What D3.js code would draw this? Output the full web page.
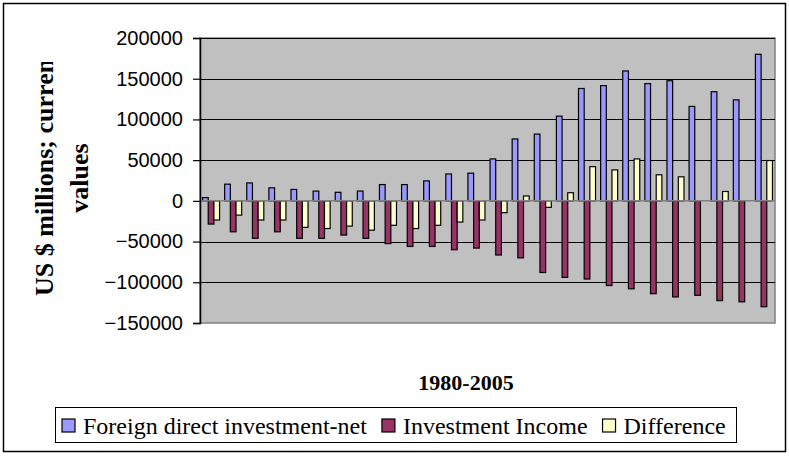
<!DOCTYPE html>
<html>
<head>
<meta charset="utf-8" />
<script src="https://d3js.org/d3.v7.min.js"></script>
<style>
  body { margin: 0; background: #fff; }
  svg { display: block; }
</style>
</head>
<body>
<div id="chart"></div>
<script>
// --- data ---
const years = d3.range(1980, 2006).map(String);
const seriesNames = ["Foreign direct investment-net", "Investment Income", "Difference"];
const fdiNet = [4000, 20500, 22000, 16000, 14000, 12000, 10500, 12000, 20000, 20000, 24500, 33000, 34000,
                51500, 76000, 82000, 104000, 138000, 141500, 159500, 144000, 147500, 116000, 134000, 124000, 180000];
const investmentIncome = [-28500, -38000, -46000, -38000, -46000, -46000, -42000, -46000, -52500, -56000, -56000, -60000, -58000,
                          -66500, -70000, -88000, -94000, -96000, -104000, -108000, -114000, -118000, -116000, -122500, -124000, -130000];
const difference = [-23500, -17500, -23500, -23500, -32500, -34000, -31000, -36000, -30000, -34000, -30000, -26000, -23500,
                    -14500, 6000, -8000, 10000, 42000, 38000, 51500, 32000, 29500, 0, 11500, 0, 49500];
const yTicks = [-150000, -100000, -50000, 0, 50000, 100000, 150000, 200000];
const colors = ["#9999FF", "#993366", "#FFFFCC"];

const width = 789, height = 456;
const plot = { left: 200, right: 775, top: 38, bottom: 323 };

const svg = d3.select("#chart").append("svg").attr("width", width).attr("height", height);

// outer chart border
svg.append("rect").attr("x", 3.5).attr("y", 3.5).attr("width", 782).attr("height", 448)
    .attr("fill", "#fff").attr("stroke", "#000").attr("stroke-width", 1.5);

const x0 = d3.scaleBand().domain(years).range([plot.left, plot.right]).paddingInner(0.23).paddingOuter(0.115);
const x1 = d3.scaleBand().domain(seriesNames).range([0, x0.bandwidth()]);
const y = d3.scaleLinear().domain([-150000, 200000]).range([plot.bottom, plot.top]);

// plot area
svg.append("rect").attr("x", plot.left).attr("y", plot.top)
    .attr("width", plot.right - plot.left).attr("height", plot.bottom - plot.top)
    .attr("fill", "#C0C0C0").attr("stroke", "#808080").attr("stroke-width", 1.5);

// gridlines
svg.append("g").selectAll("line")
    .data(yTicks.filter(d => d !== 0 && d !== -150000))
    .join("line")
    .attr("x1", plot.left).attr("x2", plot.right)
    .attr("y1", d => Math.round(y(d)) + 0.5).attr("y2", d => Math.round(y(d)) + 0.5)
    .attr("stroke", "#000").attr("stroke-width", 1);

// bars
const rows = years.map((yr, i) => ({ year: yr, values: [fdiNet[i], investmentIncome[i], difference[i]] }));
const group = svg.append("g").selectAll("g")
    .data(rows).join("g")
    .attr("transform", d => `translate(${x0(d.year)},0)`);

group.selectAll("rect")
    .data(d => d.values.map((v, k) => ({ name: seriesNames[k], value: v, k })))
    .join("rect")
    .attr("x", d => x1(d.name))
    .attr("y", d => y(Math.max(0, d.value)))
    .attr("width", x1.bandwidth())
    .attr("height", d => Math.abs(y(d.value) - y(0)))
    .attr("fill", d => colors[d.k])
    .attr("stroke", "#000").attr("stroke-width", 1.2);

// category axis line at zero
svg.append("line").attr("x1", plot.left).attr("x2", plot.right)
    .attr("y1", y(0)).attr("y2", y(0)).attr("stroke", "#808080").attr("stroke-width", 1.5);

// value axis
const yAxis = d3.axisLeft(y).tickValues(yTicks).tickSize(7).tickPadding(10).tickFormat(d3.format("d"));
const ya = svg.append("g").attr("transform", `translate(${plot.left},0)`).call(yAxis);
ya.select(".domain").attr("stroke", "#000").attr("stroke-width", 1.5);
ya.selectAll(".tick line").attr("stroke", "#000").attr("stroke-width", 1.2);
ya.selectAll(".tick text")
    .attr("font-family", "'Liberation Sans', Arial, sans-serif")
    .attr("font-size", 20).attr("fill", "#000");

// y axis title (first line clipped at the top, as in the original)
svg.append("clipPath").attr("id", "ytclip")
    .append("rect").attr("x", 0).attr("y", 62).attr("width", 120).attr("height", 300);
const yTitle = svg.append("g").attr("clip-path", "url(#ytclip)")
    .attr("font-family", "'Liberation Serif', 'Times New Roman', serif")
    .attr("font-weight", "bold").attr("font-size", 26).attr("fill", "#000");
yTitle.append("text")
    .attr("transform", "translate(53,296) rotate(-90)")
    .attr("text-anchor", "start")
    .text("US $ millions; current");
yTitle.append("text")
    .attr("transform", "translate(88,178) rotate(-90)")
    .attr("text-anchor", "middle")
    .text("values");

// x axis title
svg.append("text")
    .attr("x", 466).attr("y", 390)
    .attr("text-anchor", "middle")
    .attr("font-family", "'Liberation Serif', 'Times New Roman', serif")
    .attr("font-weight", "bold").attr("font-size", 22)
    .text("1980-2005");

// legend
const legend = svg.append("g");
legend.append("rect").attr("x", 55.5).attr("y", 407.5).attr("width", 681).attr("height", 35)
    .attr("fill", "#fff").attr("stroke", "#000").attr("stroke-width", 1);
let lx = 62;
seriesNames.forEach((name, k) => {
    legend.append("rect").attr("x", lx).attr("y", 419).attr("width", 13).attr("height", 13)
        .attr("fill", colors[k]).attr("stroke", "#000").attr("stroke-width", 1.2);
    const t = legend.append("text").attr("x", lx + 21).attr("y", 434)
        .attr("font-family", "'Liberation Serif', 'Times New Roman', serif")
        .attr("font-size", 24).attr("fill", "#000")
        .text(name);
    lx += 21 + t.node().getComputedTextLength() + 15;
});
</script>
</body>
</html>
